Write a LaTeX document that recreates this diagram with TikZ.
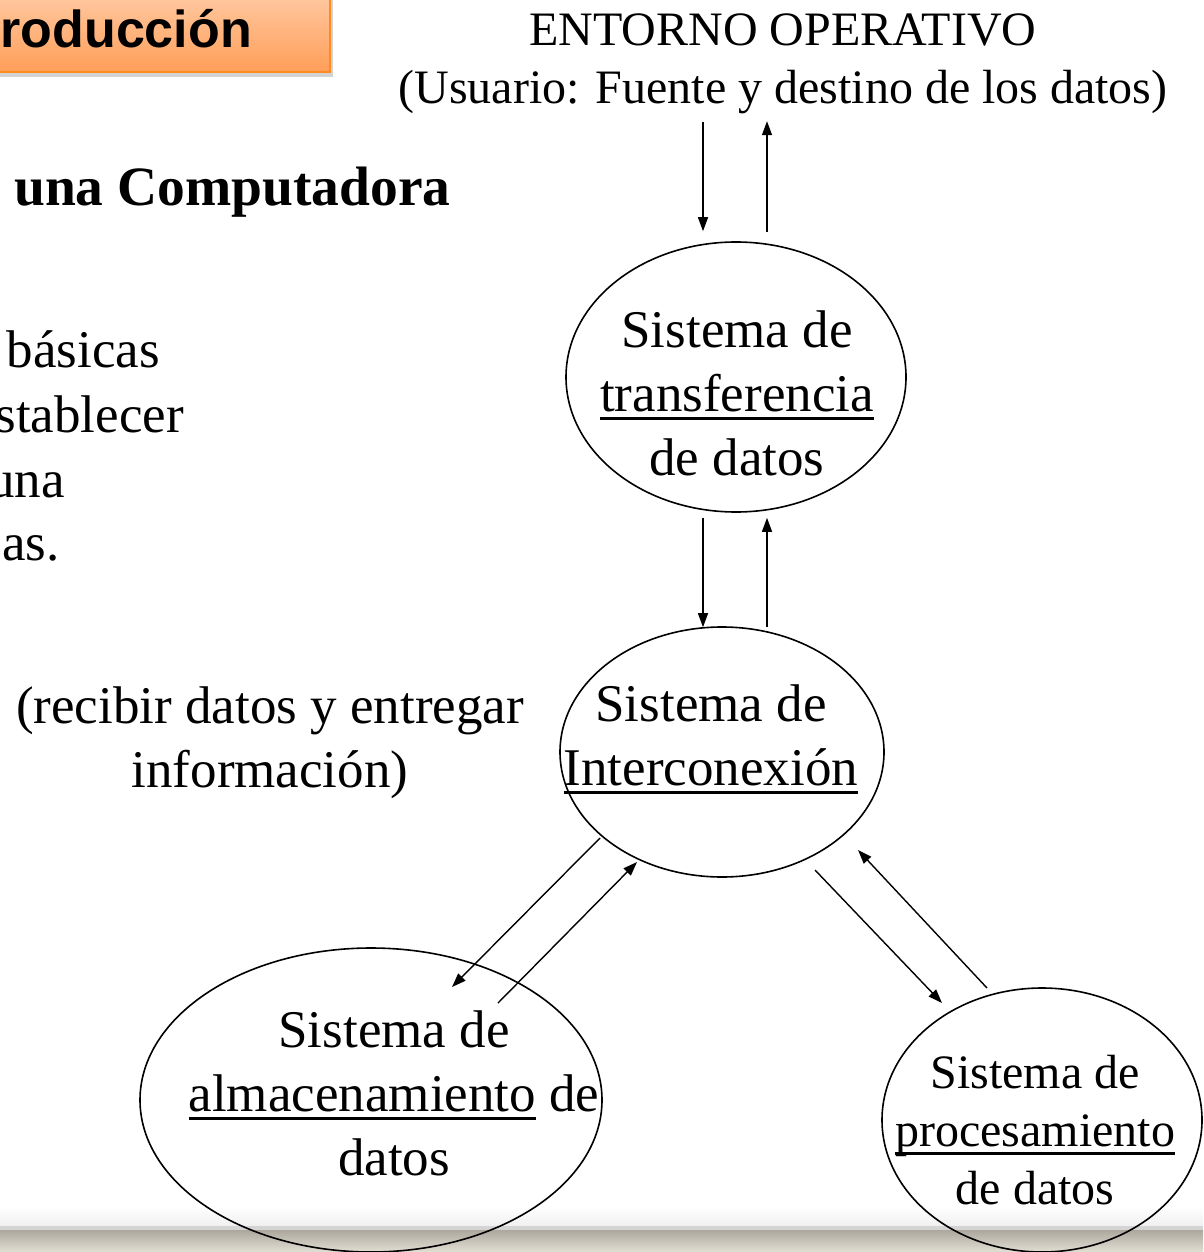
\documentclass[tikz,border=0pt]{standalone}
\usepackage{fontspec}
\setmainfont{Liberation Serif}
\newfontfamily\arialfont{Liberation Sans}
\usetikzlibrary{positioning,calc,shapes.geometric,shadows,arrows.meta}

\definecolor{naranja}{HTML}{FF8A1E}
\definecolor{naranjaclaro}{HTML}{FFD0AE}
\definecolor{naranjaoscuro}{HTML}{FF9E58}
\definecolor{barra}{HTML}{ACA89E}
\definecolor{barraclara}{HTML}{E4DFD3}

\newcommand{\subrayar}[1]{\setbox0=\hbox{#1}\rlap{\rule[-8.5pt]{\wd0}{2.6pt}}\box0\relax}

\begin{document}
\begin{tikzpicture}[x=1pt,y=-1pt,
  sistema/.style={ellipse,draw,line width=1.6pt,inner sep=0pt},
  texto/.style={align=center,inner sep=0pt,font=\fontsize{53}{64}\selectfont},
  textochico/.style={align=center,inner sep=0pt,font=\fontsize{48}{58}\selectfont},
  flecha/.style={line width=1.4pt,-{Triangle[length=14pt,width=10pt]}}]
  \useasboundingbox (0,0) rectangle (1203,1252);
  \clip (0,0) rectangle (1203,1252);

  \fill[top color=white,bottom color=black!6] (0,1206) rectangle (1203,1226);
  \fill[black!17] (0,1226) rectangle (1203,1230);
  \fill[top color=barra,bottom color=barraclara] (0,1230) rectangle (1203,1252);

  \path[draw=naranja,line width=2.5pt,top color=naranjaclaro,bottom color=naranjaoscuro,
    drop shadow={shadow xshift=3pt,shadow yshift=-5pt,opacity=.35}]
    (-20,-20) rectangle (330,72);
  \node[anchor=base east,inner sep=0pt,font=\arialfont\bfseries\fontsize{52}{60}\selectfont]
    (titulo) at (252,48) {roducción};

  \node[anchor=base west,inner sep=0pt,font=\bfseries\fontsize{55.5}{64}\selectfont]
    (compu) at (14,205) {una Computadora};
  \node[anchor=base east,texto] (lin1) at (160,367) {básicas};
  \node[anchor=base east,texto] (lin2) at (184,432) {stablecer};
  \node[anchor=base east,texto] (lin3) at (65,497) {una};
  \node[anchor=base east,texto] (lin4) at (60,560) {as.};
  \node[anchor=base,texto] (recibir) at (270,787)
    {(recibir datos y entregar\\información)};

  \node[anchor=base,textochico] (ent) at (783,104)
    {ENTORNO OPERATIVO\\(Usuario: Fuente y destino de los datos)};

  \node[sistema,minimum width=340pt,minimum height=270pt] (tra) at (736,377) {};
  \node[sistema,minimum width=324pt,minimum height=250pt] (int) at (722,752) {};
  \node[sistema,minimum width=462pt,minimum height=304pt] (alm) at (371,1100) {};
  \node[sistema,minimum width=320pt,minimum height=264pt] (pro) at (1042,1120) {};

  \node[anchor=base,texto] (traTxt) at (737,475)
    {Sistema de\\\subrayar{transferencia}\\de datos};
  \node[anchor=base,texto] (intTxt) at (711,785)
    {Sistema de\\\subrayar{Interconexión}};
  \node[anchor=base,texto] (almTxt) at (394,1175)
    {Sistema de\\\subrayar{almacenamiento} de\\datos};
  \node[anchor=base,textochico] (proTxt) at (1035,1204)
    {Sistema de\\\subrayar{procesamiento}\\de datos};

  \draw[flecha] ($(tra.north)+(-33,-119)$) -- ($(tra.north)+(-33,-10)$);
  \draw[flecha] ($(tra.north)+(31,-9)$) -- ($(tra.north)+(31,-120)$);
  \draw[flecha] ($(tra.south)+(-33,5)$) -- ($(int.north)+(-19,1)$);
  \draw[flecha] ($(int.north)+(45,1)$) -- ($(tra.south)+(31,5)$);
  \draw[flecha] ($(int)+(-122,86)$) -- ($(alm)+(81,-113)$);
  \draw[flecha] ($(alm)+(127,-97)$) -- ($(int)+(-85,110)$);
  \draw[flecha] ($(int)+(93,118)$) -- ($(pro)+(-100,-117)$);
  \draw[flecha] ($(pro)+(-55,-132)$) -- ($(int)+(136,98)$);
\end{tikzpicture}
\end{document}
